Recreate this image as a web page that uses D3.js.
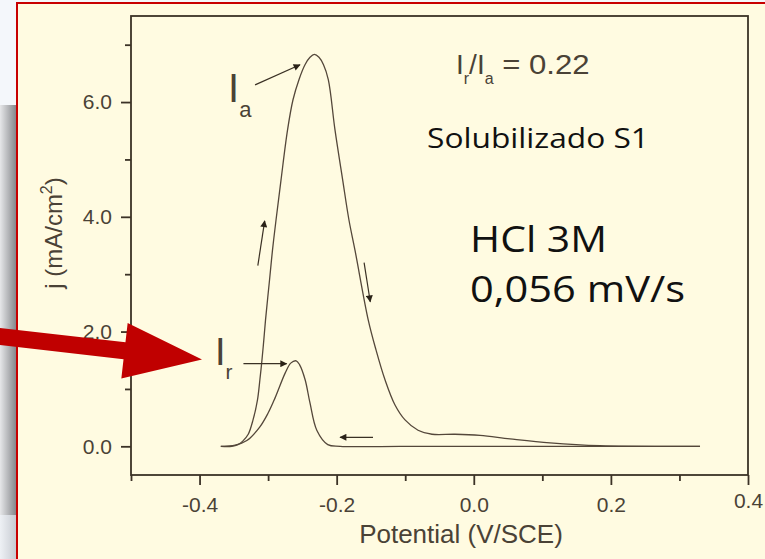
<!DOCTYPE html>
<html>
<head>
<meta charset="utf-8">
<script src="https://cdn.jsdelivr.net/npm/d3@7/dist/d3.min.js"></script>
<style>
  body { margin: 0; background: #f4f7fb; }
  svg { display: block; }
</style>
</head>
<body>
<div id="chart"></div>
<script>
// Sweep data (potential in V/SCE, j in mA/cm2)
var forwardE = [-0.369, -0.353, -0.344, -0.337, -0.329, -0.322, -0.3155, -0.312, -0.309, -0.3063, -0.3038,
  -0.298, -0.2936, -0.2885, -0.2812, -0.2717, -0.2637, -0.255, -0.2462, -0.2389, -0.2326,
  -0.2258, -0.2192, -0.2122, -0.2024, -0.1912, -0.182, -0.1733, -0.1539,
  -0.1426, -0.1295, -0.1149, -0.1003, -0.0813, -0.061, -0.0274, 0.0091, 0.0528, 0.1112, 0.184, 0.330];
var forwardJ = [0.0, 0.0, 0.03, 0.09, 0.21, 0.46, 0.81, 1.16, 1.50, 1.85, 2.20,
  2.89, 3.42, 3.94, 4.64, 5.51, 6.04, 6.39, 6.65, 6.78, 6.83,
  6.78, 6.65, 6.39, 5.51, 4.64, 3.94, 3.42, 2.20,
  1.68, 1.16, 0.72, 0.46, 0.28, 0.21, 0.21, 0.19, 0.13, 0.06, 0.01, 0.0];

var reverseE = [0.330, -0.108, -0.195, -0.213, -0.229, -0.239, -0.246, -0.254, -0.259, -0.267, -0.275, -0.290,
  -0.300, -0.312, -0.331, -0.348, -0.369];
var reverseJ = [0.0, 0.0, 0.0, 0.03, 0.28, 0.76, 1.16, 1.42, 1.49, 1.45, 1.28, 0.84,
  0.58, 0.34, 0.10, 0.02, 0.0];

var xMajor = [-0.4, -0.2, 0.0, 0.2, 0.4];
var xMinor = [-0.5, -0.3, -0.1, 0.1, 0.3];
var yMajor = [0, 2, 4, 6];
var yMinor = [1, 3, 5, 7];

// sweep direction arrows [E1, j1, E2, j2]
var sweepArrows = [
  [-0.315, 3.15, -0.305, 3.93],
  [-0.160, 3.20, -0.151, 2.52],
  [-0.147, 0.157, -0.195, 0.157]
];
// peak pointers
var peakArrows = [
  [-0.319, 6.30, -0.2535, 6.65],
  [-0.336, 1.44, -0.273, 1.44]
];

var W = 765, H = 559;
var axisColor = "#3b3226", textColor = "#4a4236", curveColor = "#54473a";
var chartFont = "'Liberation Sans', Arial, sans-serif";

var svg = d3.select("#chart").append("svg")
  .attr("width", W).attr("height", H);

var defs = svg.append("defs");
var g1 = defs.append("linearGradient").attr("id", "shade").attr("x1", 0).attr("x2", 1).attr("y1", 0).attr("y2", 0);
g1.append("stop").attr("offset", "0%").attr("stop-color", "#e6e7e9");
g1.append("stop").attr("offset", "100%").attr("stop-color", "#808286");
var g2 = defs.append("linearGradient").attr("id", "shade2").attr("x1", 0).attr("x2", 1).attr("y1", 0).attr("y2", 0);
g2.append("stop").attr("offset", "0%").attr("stop-color", "#eef1f5");
g2.append("stop").attr("offset", "100%").attr("stop-color", "#c5c9d0");

defs.append("marker").attr("id", "head")
  .attr("viewBox", "0 0 10 10").attr("refX", 9).attr("refY", 5)
  .attr("markerWidth", 10).attr("markerHeight", 7).attr("markerUnits", "userSpaceOnUse")
  .attr("orient", "auto")
  .append("path").attr("d", "M0,0 L10,5 L0,10 Z").attr("fill", "#2a2218");

// slide background pieces
svg.append("rect").attr("x", 0).attr("y", 105).attr("width", 17).attr("height", 410).attr("fill", "url(#shade)");
svg.append("rect").attr("x", 0).attr("y", 515).attr("width", 17).attr("height", 44).attr("fill", "url(#shade2)");
svg.append("rect").attr("x", 18).attr("y", 4).attr("width", W - 18).attr("height", H - 4).attr("fill", "#fffbe1");
svg.append("path").attr("d", "M17," + H + " L17,3 L" + W + ",3")
  .attr("fill", "none").attr("stroke", "#c80000").attr("stroke-width", 2);

// plot
var x = d3.scaleLinear().domain([-0.5, 0.4]).range([131, 748]);
var y = d3.scaleLinear().domain([-0.5, 7.5]).range([475, 16]);
var fmt = function(d) { return d3.format(".1f")(d).replace("\u2212", "-"); };

var plot = svg.append("g");
plot.append("rect")
  .attr("x", x(-0.5)).attr("y", y(7.5))
  .attr("width", x(0.4) - x(-0.5)).attr("height", y(-0.5) - y(7.5))
  .attr("fill", "none").attr("stroke", axisColor).attr("stroke-width", 1.8);

var xAxis = plot.append("g").attr("transform", "translate(0," + y(-0.5) + ")")
  .call(d3.axisBottom(x).tickValues(xMajor).tickSize(10).tickFormat(fmt));
var xAxisMinor = plot.append("g").attr("transform", "translate(0," + y(-0.5) + ")")
  .call(d3.axisBottom(x).tickValues(xMinor).tickSize(6).tickFormat(""));
var yAxis = plot.append("g").attr("transform", "translate(" + x(-0.5) + ",0)")
  .call(d3.axisLeft(y).tickValues(yMajor).tickSize(10).tickFormat(fmt));
var yAxisMinor = plot.append("g").attr("transform", "translate(" + x(-0.5) + ",0)")
  .call(d3.axisLeft(y).tickValues(yMinor).tickSize(6).tickFormat(""));

[xAxis, xAxisMinor, yAxis, yAxisMinor].forEach(function(a) {
  a.select(".domain").remove();
  a.selectAll(".tick line").attr("stroke", axisColor).attr("stroke-width", 1.8);
  a.selectAll(".tick text")
    .attr("fill", textColor)
    .style("font-family", chartFont)
    .style("font-size", "21px");
});
xAxis.selectAll(".tick text").attr("dy", "1.15em");
xAxis.selectAll(".tick text").filter(function(d) { return d === 0.4; }).attr("dy", "0.95em");
yAxis.selectAll(".tick text").attr("x", -19);

// axis titles
svg.append("text")
  .attr("x", 461).attr("y", 543)
  .attr("text-anchor", "middle")
  .attr("fill", textColor)
  .style("font-family", chartFont)
  .style("font-size", "26px")
  .text("Potential (V/SCE)");

var yt = svg.append("text")
  .attr("transform", "translate(62,233) rotate(-90)")
  .attr("text-anchor", "middle")
  .attr("fill", textColor)
  .style("font-family", chartFont)
  .style("font-size", "24px");
yt.append("tspan").text("j (mA/cm");
yt.append("tspan").attr("dy", -10).style("font-size", "16px").text("2");
yt.append("tspan").attr("dy", 10).text(")");

// curves
var line = d3.line()
  .x(function(d) { return x(d[0]); })
  .y(function(d) { return y(d[1]); })
  .curve(d3.curveCatmullRom.alpha(0.5));

var forward = forwardE.map(function(e, i) { return [e, forwardJ[i]]; });
var reverse = reverseE.map(function(e, i) { return [e, reverseJ[i]]; });

plot.selectAll("path.sweep")
  .data([forward, reverse])
  .enter().append("path")
  .attr("class", "sweep")
  .attr("d", line)
  .attr("fill", "none")
  .attr("stroke", curveColor)
  .attr("stroke-width", 1.3);

// arrows
plot.selectAll("line.arr")
  .data(sweepArrows.concat(peakArrows))
  .enter().append("line")
  .attr("class", "arr")
  .attr("x1", function(d) { return x(d[0]); })
  .attr("y1", function(d) { return y(d[1]); })
  .attr("x2", function(d) { return x(d[2]); })
  .attr("y2", function(d) { return y(d[3]); })
  .attr("stroke", "#3a3024")
  .attr("stroke-width", 1.2)
  .attr("marker-end", "url(#head)");

// peak labels
function peakLabel(px, py, big, sub, size) {
  var t = svg.append("text").attr("x", px).attr("y", py)
    .attr("fill", textColor)
    .style("font-family", chartFont)
    .style("font-size", size + "px");
  t.append("tspan").text(big);
  t.append("tspan").attr("dy", size * 0.38).style("font-size", (size * 0.55) + "px").text(sub);
}
peakLabel(228, 102, "I", "a", 40);
peakLabel(215, 365, "I", "r", 38);

// ratio text
var rt = svg.append("text").attr("x", 456).attr("y", 74)
  .attr("fill", textColor)
  .style("font-family", chartFont)
  .style("font-size", "28px");
rt.append("tspan").text("I");
rt.append("tspan").attr("dy", 10).style("font-size", "16px").text("r");
rt.append("tspan").attr("dy", -10).text("/I");
rt.append("tspan").attr("dy", 10).style("font-size", "16px").text("a");
rt.append("tspan").attr("dy", -10).attr("textLength", 96).attr("lengthAdjust", "spacingAndGlyphs").text(" = 0.22");

// slide notes
var notes = [
  { t: "Solubilizado S1", x: 427, y: 148, size: 28, len: 222 },
  { t: "HCl 3M", x: 470, y: 252, size: 37, len: 137 },
  { t: "0,056 mV/s", x: 470, y: 302, size: 37, len: 215 }
];
svg.selectAll("text.note")
  .data(notes)
  .enter().append("text")
  .attr("class", "note")
  .attr("x", function(d) { return d.x; })
  .attr("y", function(d) { return d.y; })
  .attr("textLength", function(d) { return d.len; })
  .attr("lengthAdjust", "spacingAndGlyphs")
  .attr("fill", "#111")
  .style("font-family", "'Open Sans', 'Noto Sans', sans-serif")
  .style("font-size", function(d) { return d.size + "px"; })
  .text(function(d) { return d.t; });

// big red pointer arrow
var tip = [202, 359.5], tail = [-5, 336], shaftHalf = 8.5, headHalf = 28, headLen = 78;
var ang = Math.atan2(tip[1] - tail[1], tip[0] - tail[0]);
var ux = Math.cos(ang), uy = Math.sin(ang), nx = -uy, ny = ux;
var bx = tip[0] - ux * headLen, by = tip[1] - uy * headLen;
var pts = [
  [tail[0] - nx * shaftHalf, tail[1] - ny * shaftHalf],
  [bx - nx * shaftHalf, by - ny * shaftHalf],
  [bx - nx * headHalf, by - ny * headHalf],
  tip,
  [bx + nx * headHalf, by + ny * headHalf],
  [bx + nx * shaftHalf, by + ny * shaftHalf],
  [tail[0] + nx * shaftHalf, tail[1] + ny * shaftHalf]
];
svg.append("polygon")
  .attr("points", pts.map(function(p) { return p.join(","); }).join(" "))
  .attr("fill", "#c00000");
</script>
</body>
</html>
